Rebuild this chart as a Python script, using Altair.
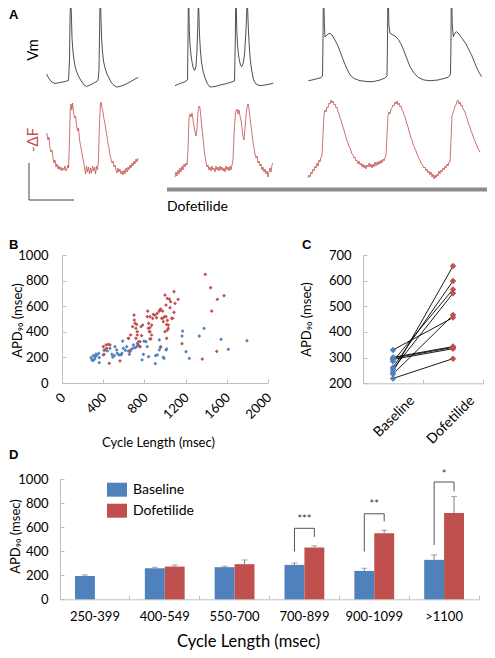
import altair as alt
import pandas as pd

FONT = "Lato"
BLUE = "#4f81bd"
RED = "#c0504d"
GRAY = "#bfbfbf"
INK = "#3c3c3c"
W, H = 479, 642

# ---------------- Panel A : digitised recordings (position along record, level as read) ----------------
vm_base = [(46.7,74),(48,77),(50,80),(52,82),(55,83.5),(60,82.5),(65,81.5),(68.5,80.5),(69.5,60),(70,20),(70.5,3),(71,3),
           (71.5,20),(72,38),(73,52),(74,60),(75,66),(76,70),(78,75),(80,79),(82,82),(84,85),(86.5,86.5),(90,85),(94,83),
           (98,80.5),(99,70),(99.6,30),(100,3),(100.6,3),(101,20),(101.6,38),(102.5,52),(103.5,61),(105,68),(107,74),
           (109,78),(111,82),(113,84.5),(116.5,87),(120,86.5),(125,84.5),(130,82),(135,79),(138.3,77.3)]
df_base = [(46.7,133),(48,140),(49,137),(50,148),(51,152),(52,150),(53,158),(54,163),(55,160),(56,167),(57,164),(58,169),
           (59,166),(60,170),(61,167),(62,171),(63,168),(64,170),(65,166),(66,171),(67,169),(68,165),(68.5,168),(69.5,140),
           (70.3,108),(71,104),(71.8,110),(72.5,103),(73.5,112),(74.5,118),(75.5,116),(76.5,125),(77.5,131),(78.5,128),
           (79.5,139),(80.5,146),(81.5,150),(82.5,157),(83.5,161),(84.5,168),(85.5,174),(86.5,166),(87.5,172),(88.5,167),
           (89.5,174),(90.5,168),(91.5,173),(92.5,166),(93.5,171),(94.5,167),(95.5,174),(96.5,166),(97.5,170),(98.5,160),
           (99.3,130),(100.3,105),(101,102),(102,108),(103,112),(104,119),(105,124),(106,131),(107,136),(108,144),(109,148),
           (110,155),(111,159),(112,163),(113,161),(114,167),(115,165),(116,170),(117,173),(118,168),(119,172),(120,169),
           (121,174),(122,171),(123,175),(124,170),(125,174),(126,168),(127,172),(128,167),(129,170),(130,165),(131,168),
           (132,163),(133,166),(134,161),(135,164),(136,159),(137,162),(138,158)]
vm_dof1 = [(175,85.7),(180,83.5),(185,81.7),(187.5,80),(188,40),(188.3,3),(188.8,3),(189.3,30),(190,45),(191,55),(192,62),
           (193,67),(194,70),(195,70),(196,66),(197,50),(197.8,25),(198.3,5),(198.8,10),(199.5,35),(200.5,52),(201.5,62),
           (203,71),(205,78),(207,83),(210,87),(215,86.5),(220,85),(225,84),(230,82.5),(234.5,81),(235.3,40),(235.7,3),
           (236.2,3),(236.8,30),(237.5,45),(238.5,55),(239.5,61),(240.5,65),(241.7,66.7),(243,64),(244.5,55),(246,30),
           (247,5),(247.6,8),(248.4,30),(249.5,50),(250.5,62),(252,72),(253.5,80),(256,84),(260,85.7),(265,85),(270,84),
           (273.3,83.3)]
df_dof1 = [(175,177),(176,172),(177,176),(178,170),(179,174),(180,168),(181,172),(182,166),(183,170),(184,164),(185,167),
           (186,163),(187,165),(188,150),(189,118),(190,114),(191,117),(192,113),(193,120),(194,126),(195,132),(196,136),
           (197,128),(198,112),(199,106),(200,108),(201,118),(202,128),(203,138),(204,148),(205,156),(206,162),(207,167),
           (208,165),(209,170),(210,167),(211,171),(212,166),(213,170),(214,168),(215,172),(216,166),(217,170),(218,167),
           (219,171),(220,166),(221,170),(222,167),(223,171),(224,168),(225,172),(226,166),(227,170),(228,167),(229,171),
           (230,166),(231,170),(232,165),(233,160),(234,135),(235.5,112),(237,109),(238,114),(239,110),(240,116),(241,120),
           (242,128),(243,137),(244,140),(245,128),(246.5,110),(248,104),(249,108),(250,118),(251,126),(252,134),(253,142),
           (254,148),(255,154),(256,158),(257,156),(258,163),(259,161),(260,166),(261,164),(262,170),(263,167),(264,172),
           (265,169),(266,174),(267,171),(268,177),(269,172),(270,168),(271,172),(272,165),(273,163)]
vm_dof2 = [(308.3,80.7),(312,80),(316,79),(320,78),(322.5,76),(323,40),(323.3,3),(323.9,3),(324.4,25),(325,37),(326,36),
           (328,34),(330,33.3),(332,35),(335,40),(338,46),(341,54),(344,62),(347,69),(350,75),(354,78.5),(360,80.7),
           (367,81.5),(373,81.7),(380,80),(385,78),(387,76),(387.5,40),(387.8,3),(388.4,3),(388.9,25),(390,33.3),(393,35),
           (395,36),(398,39),(401,44),(404,51),(407,59),(410,66.7),(414,73),(418,77.3),(424,80),(430,80.7),(438,80),
           (444,78.5),(448.3,77.3),(450.5,74),(451,40),(451.2,3),(451.8,3),(452.3,25),(453.3,36.7),(455,33),(456.7,31.7),
           (459,34),(461,37),(463.3,40),(466,44),(469,50),(472,56),(474,61),(476,66),(478,70.5),(480,74),(481.7,76.7)]
df_dof2 = [(308,178),(309,175),(310,177),(311,172),(312,174),(313,169),(314,171),(315,166),(316,168),(317,163),(318,166),
           (319,160),(320,162),(321,157),(322,156),(323,135),(324,114),(325,110),(326,112),(327,107),(328,108),(329,103),
           (330,104),(331,100),(332,103),(333,101),(334,105),(335,104),(336,108),(337,107),(338,112),(339,113),(340,118),
           (341,120),(342,124),(343,127),(344,130),(345,134),(346,137),(347,141),(348,143),(349,147),(350,148),(351,151),
           (352,154),(353,155),(354,158),(355,157),(356,161),(357,160),(358,164),(359,161),(360,165),(361,163),(362,167),
           (363,164),(364,168),(365,165),(366,169),(367,165),(368,167),(369,163),(370,167),(371,164),(372,168),(373,164),
           (374,167),(375,162),(376,166),(377,162),(378,165),(379,161),(380,164),(381,160),(382,163),(383,159),(384,161),
           (385,158),(386,155),(387,135),(388,116),(389,112),(390,114),(391,109),(392,108),(393,105),(394,106),(395,102),
           (396,104),(397,101),(398,105),(399,103),(400,107),(401,106),(402,110),(403,111),(404,115),(405,117),(406,121),
           (407,124),(408,127),(409,131),(410,134),(411,138),(412,140),(413,144),(414,146),(415,149),(416,151),(417,154),
           (418,156),(419,159),(420,160),(421,163),(422,164),(423,166),(424,168),(425,167),(426,171),(427,169),(428,173),
           (429,171),(430,175),(431,172),(432,177),(433,174),(434,179),(435,175),(436,178),(437,174),(438,176),(439,171),
           (440,174),(441,170),(442,172),(443,168),(444,170),(445,166),(446,168),(447,164),(448,166),(449,162),(450,162),
           (451,140),(452,116),(453,113),(454,110),(455,106),(456,105),(457,101),(458,100),(459,104),(460,102),(461,106),
           (462,105),(463,109),(464,110),(465,112),(466,116),(467,118),(468,122),(469,125),(470,127),(471,131),(472,133),
           (473,136),(474,139),(475,141),(476,144),(477,146),(478,149),(479,150),(480,152)]
scale_bar = [(29,163),(29,200),(74,200)]
drug_bar = [(167,189.5),(493,189.5)]

# ---------------- Panel B : APD90 vs cycle length ----------------
b_base_cl = [282,291,300,304,317,320,330,337,356,362,362,401,408,440,466,485,492,508,514,531,537,553,573,582,589,595,615,
             628,644,647,654,667,686,693,709,725,731,744,757,767,777,790,796,815,828,841,906,909,925,945,945,958,984,990,
             1010,1016,1165,1171,1204,1236,1333,1379,1544,1615,1796]
b_base_apd = [198,180,175,214,187,205,225,214,232,198,159,219,255,250,271,224,203,214,284,258,232,219,219,232,328,271,255,
              284,250,349,224,258,271,297,276,284,310,323,284,440,180,224,328,323,284,206,151,214,219,258,336,284,201,193,
              258,266,367,406,245,193,367,427,341,263,331]
b_dof_cl = [401,417,408,427,434,450,459,466,563,644,660,667,686,699,702,709,718,725,731,718,731,741,757,773,783,757,832,
            828,841,838,848,854,870,861,880,903,919,945,958,977,1000,1023,1010,1010,1016,1032,1016,968,1000,1391,1443,1508,
            1573,1453,1502,1362,1165,1087,1042,1055,1127,1097,1049,1087,1065,996,1023,1032,1023,951,925,886,854,871,854,
            854,958,977,1075,984]
b_dof_apd = [284,258,224,297,271,302,154,297,172,349,245,375,440,531,492,466,427,458,401,349,375,297,323,370,453,284,562,
             518,466,427,401,432,375,344,505,531,510,562,578,505,687,661,609,518,458,427,349,505,401,849,745,654,682,562,
             247,187,307,713,656,635,654,622,588,552,505,518,490,453,414,570,544,536,518,453,401,344,279,562,505,479]

# ---------------- Panel C : paired APD90 ----------------
c_conditions = ["Baseline", "Dofetilide"]
c_baseline = [330, 301, 293, 286, 262, 255, 245, 236, 219, 298]
c_dofetilide = [456, 343, 335, 566, 599, 551, 657, 466, 296, 340]

# ---------------- Panel D : binned means ----------------
d_groups = ["250-399", "400-549", "550-700", "700-899", "900-1099", ">1100"]
d_base_mean = [194, 258, 267, 286, 236, 328]
d_base_err = [203, 266, 275, 302, 258, 369]
d_dof_mean = [None, 272, 292, 430, 550, 717]
d_dof_err = [None, 285, 327, 444, 575, 855]
br_groups = ["700-899", "900-1099", ">1100"]
br_base_low = [397, 397, 452]
br_top = [590, 711, 975]
br_dof_low = [519, 647, 897]
star_text = ["***", "**", "*"]
star_level = [662, 780, 1036]

# ======================= build =======================
def pts_frame(name, pts):
    return pd.DataFrame({"trace": name, "x": [p[0] for p in pts], "y": [p[1] for p in pts],
                         "i": list(range(len(pts)))})

xa = alt.Scale(domain=[0, 495], range=[-8, 487], nice=False, zero=False)
ya = alt.Scale(domain=[0, 212], range=[-8, 204], nice=False, zero=False)

def trace_layer(frame, color, width):
    return alt.Chart(frame).mark_line(color=color, strokeWidth=width, strokeJoin="round").encode(
        x=alt.X("x:Q", scale=xa, axis=None),
        y=alt.Y("y:Q", scale=ya, axis=None),
        detail="trace:N", order="i:Q")

vm_frame = pd.concat([pts_frame("vb", vm_base), pts_frame("v1", vm_dof1), pts_frame("v2", vm_dof2)])
df_frame = pd.concat([pts_frame("fb", df_base), pts_frame("f1", df_dof1), pts_frame("f2", df_dof2)])
panel_a = [
    trace_layer(vm_frame, INK, 0.9),
    trace_layer(df_frame, RED, 0.8),
    trace_layer(pts_frame("sb", scale_bar), "#404040", 1),
    trace_layer(pts_frame("db", drug_bar), "#8c8c8c", 4),
]

one = pd.DataFrame({"k": [0]})
def label(text, x, y, size=13, color="black", angle=0, align="left", baseline="top", font=FONT, weight="normal"):
    return alt.Chart(one).mark_text(text=text, fontSize=size, color=color, angle=angle, align=align,
                                    baseline=baseline, font=font, fontWeight=weight).encode(
        x=alt.value(x), y=alt.value(y))

dummy = pd.DataFrame({"v": [0], "c": ["Baseline"]})
def qtick(channel, scale, values, orient, offset):
    ax = alt.Axis(orient=orient, offset=offset, values=values, labels=False, domain=False, ticks=True,
                  tickSize=4, tickColor=GRAY, title=None, grid=False)
    enc = alt.X("v:Q", scale=scale, axis=ax) if channel == "x" else alt.Y("v:Q", scale=scale, axis=ax)
    return alt.Chart(dummy).mark_point(opacity=0).encode(**{channel: enc})

def btick(scale, offset):
    ax = alt.Axis(orient="bottom", offset=offset, labels=False, domain=False, ticks=True, tickSize=4,
                  tickColor=GRAY, bandPosition=0, title=None, grid=False)
    return alt.Chart(dummy).mark_point(opacity=0).encode(x=alt.X("c:N", scale=scale, axis=ax))

cond_color = alt.Scale(domain=c_conditions, range=[BLUE, RED])
APD = "APD\u2089\u2080 (msec)"

# ---- B ----
B_X0, B_X1, B_Y0, B_Y1 = 54, 260, 375, 247
xb = alt.Scale(domain=[0, 2000], range=[B_X0, B_X1], nice=False, zero=False)
yb = alt.Scale(domain=[0, 1000], range=[B_Y0, B_Y1], nice=False, zero=False)
b_frame = pd.DataFrame({"cl": b_base_cl + b_dof_cl, "apd": b_base_apd + b_dof_apd,
                        "cond": ["Baseline"] * len(b_base_cl) + ["Dofetilide"] * len(b_dof_cl)})
b_pts = alt.Chart(b_frame).mark_point(shape="diamond", filled=True, size=14, opacity=1).encode(
    x=alt.X("cl:Q", scale=xb, axis=alt.Axis(
        orient="bottom", offset=B_Y0 - H, values=list(range(0, 2001, 400)), format="d", labelAngle=-45,
        labelAlign="right", labelBaseline="middle", labelPadding=12, labelOffset=1, ticks=False, tickSize=0,
        title="Cycle Length (msec)", titleX=150, titleY=59, titleAlign="center", titleBaseline="middle")),
    y=alt.Y("apd:Q", scale=yb, axis=alt.Axis(
        orient="left", offset=-B_X0, values=list(range(0, 1001, 200)), format="d", ticks=False, tickSize=0,
        labelPadding=14, title=APD, titleX=-45, titleY=312, titleAngle=270, titleAlign="center",
        titleBaseline="middle")),
    color=alt.Color("cond:N", scale=cond_color, legend=None))

# ---- C ----
C_X0, C_X1, C_Y0, C_Y1 = 355, 475, 375.3, 247
xc = alt.Scale(type="point", domain=c_conditions, range=[C_X0, C_X1], padding=0.5)
yc = alt.Scale(domain=[200, 700], range=[C_Y0, C_Y1], nice=False, zero=False)
n = len(c_baseline)
c_frame = pd.DataFrame({"pair": list(range(n)) * 2, "cond": ["Baseline"] * n + ["Dofetilide"] * n,
                        "apd": c_baseline + c_dofetilide})
c_lines = alt.Chart(c_frame).mark_line(color="black", strokeWidth=0.9).encode(
    x=alt.X("cond:N", scale=xc, sort=c_conditions, axis=alt.Axis(
        orient="bottom", offset=C_Y0 - H, labelAngle=-45, labelAlign="right", labelBaseline="middle",
        labelPadding=15, labelOffset=19, labelFontSize=14, ticks=False, tickSize=0, title=None)),
    y=alt.Y("apd:Q", scale=yc, axis=alt.Axis(
        orient="left", offset=-C_X0, values=list(range(200, 701, 100)), format="d", ticks=False, tickSize=0,
        labelPadding=12, title=APD, titleX=-57, titleY=311, titleAngle=270, titleAlign="center",
        titleBaseline="middle")),
    detail="pair:N")
c_pts = alt.Chart(c_frame).mark_point(shape="diamond", filled=True, size=42, opacity=1).encode(
    x=alt.X("cond:N", scale=xc, sort=c_conditions, axis=None),
    y=alt.Y("apd:Q", scale=yc, axis=None),
    color=alt.Color("cond:N", scale=cond_color, legend=None))
panel_c = [c_lines, c_pts]

# ---- D ----
D_X0, D_X1, D_Y0, D_Y1 = 52, 471, 591.3, 471
xd = alt.Scale(type="band", domain=d_groups, range=[D_X0, D_X1], paddingInner=0.43, paddingOuter=0.215)
yd = alt.Scale(domain=[0, 1000], range=[D_Y0, D_Y1], nice=False, zero=False)
xo = alt.Scale(type="band", domain=c_conditions, paddingInner=0, paddingOuter=0)
rows = []
for g, bm, be, dm, de in zip(d_groups, d_base_mean, d_base_err, d_dof_mean, d_dof_err):
    rows.append({"grp": g, "cond": "Baseline", "mean": bm, "err": be})
    if dm is not None:
        rows.append({"grp": g, "cond": "Dofetilide", "mean": dm, "err": de})
d_frame = pd.DataFrame(rows)
brows = []
for g, bl, t, dl in zip(br_groups, br_base_low, br_top, br_dof_low):
    for i, (c, v) in enumerate([("Baseline", bl), ("Baseline", t), ("Dofetilide", t), ("Dofetilide", dl)]):
        brows.append({"grp": g, "cond": c, "v": v, "i": i})
br_frame = pd.DataFrame(brows)
st_frame = pd.DataFrame({"grp": br_groups, "v": star_level, "s": star_text})

XD = lambda ax=None: alt.X("grp:N", scale=xd, sort=d_groups, axis=ax)
XO = alt.XOffset("cond:N", scale=xo, sort=c_conditions)
d_bars = alt.Chart(d_frame).mark_bar().encode(
    x=XD(alt.Axis(orient="bottom", offset=D_Y0 - H, labelAngle=0, ticks=False, tickSize=0, labelPadding=11,
                  title="Cycle Length (msec)", titleFontSize=16.5, titleX=240, titleY=47,
                  titleAlign="center", titleBaseline="alphabetic")),
    xOffset=XO,
    y=alt.Y("mean:Q", scale=yd, axis=alt.Axis(
        orient="left", offset=-D_X0, values=list(range(0, 1001, 200)), format="d", ticks=False, tickSize=0,
        labelPadding=12, title=APD, titleX=-45, titleY=528, titleAngle=270, titleAlign="center",
        titleBaseline="middle")),
    y2=alt.datum(0),
    color=alt.Color("cond:N", scale=cond_color, legend=alt.Legend(
        orient="none", legendX=99, legendY=471.7, title=None, symbolType="M-1,-0.7H1V0.7H-1Z",
        symbolSize=400, symbolStrokeWidth=0, symbolOpacity=1, labelFontSize=14, labelFont=FONT,
        labelColor="black", labelOffset=6, rowPadding=4, padding=0, direction="vertical")))
d_err = alt.Chart(d_frame).mark_rule(color="#808080", strokeWidth=1).encode(
    x=XD(), xOffset=XO, y=alt.Y("mean:Q", scale=yd, axis=None), y2="err:Q")
d_cap = alt.Chart(d_frame).mark_tick(color="#808080", thickness=1, size=6).encode(
    x=XD(), xOffset=XO, y=alt.Y("err:Q", scale=yd, axis=None))
d_br = alt.Chart(br_frame).mark_line(color="#555555", strokeWidth=1).encode(
    x=XD(), xOffset=XO, y=alt.Y("v:Q", scale=yd, axis=None), detail="grp:N", order="i:Q")
d_st = alt.Chart(st_frame).mark_text(fontSize=11, font=FONT, color="#333333", baseline="middle").encode(
    x=XD(), y=alt.Y("v:Q", scale=yd, axis=None), text="s:N")
panel_d = [d_bars, d_err, d_cap, d_br, d_st]

# tick-only axes (ticks drawn inside plot areas)
xc_t = alt.Scale(type="band", domain=c_conditions + ["_end"], range=[C_X0, C_X1 + 60], paddingInner=0, paddingOuter=0)
xd_t = alt.Scale(type="band", domain=d_groups + ["_end"], range=[D_X0, D_X1 + (D_X1 - D_X0) / 6],
                 paddingInner=0, paddingOuter=0)
ticks = [
    qtick("x", xb, list(range(0, 2001, 400)), "bottom", B_Y0 - H - 4),
    qtick("y", yb, list(range(0, 1001, 200)), "left", -(B_X0 + 4)),
    qtick("y", yc, list(range(200, 701, 100)), "left", -(C_X0 + 4)),
    qtick("y", yd, list(range(0, 1001, 200)), "left", -(D_X0 + 4)),
    btick(xc_t, C_Y0 - H - 4),
    btick(xd_t, D_Y0 - H - 4),
]

texts = [
    label("A", 1, 1, font="Liberation Sans", weight="bold"),
    label("B", 1, 231, font="Liberation Sans", weight="bold"),
    label("C", 294, 231, font="Liberation Sans", weight="bold"),
    label("D", 1, 441, font="Liberation Sans", weight="bold"),
    label("Vm", 25, 42, size=15, angle=270, align="center", baseline="middle"),
    label("-\u0394F", 25, 132, size=15, color=RED, angle=270, align="center", baseline="middle"),
    label("Dofetilide", 159, 199, size=14, align="left", baseline="middle"),
]

chart = alt.layer(*panel_a, b_pts, *panel_c, *panel_d, *ticks, *texts).resolve_scale(
    x="independent", y="independent", color="independent", xOffset="independent"
).resolve_axis(x="independent", y="independent").resolve_legend(color="independent").properties(
    width=W, height=H, autosize=alt.AutoSizeParams(type="none"), padding=0
).configure_view(stroke=None).configure_axis(
    labelFont=FONT, titleFont=FONT, labelColor="black", titleColor="black", labelFontSize=13,
    titleFontSize=13, titleFontWeight="normal", domainColor=GRAY, tickColor=GRAY, grid=False,
    labelOverlap=False, labelFlush=False
)

chart.save("out.html", embed_options={"renderer": "svg", "actions": False})
